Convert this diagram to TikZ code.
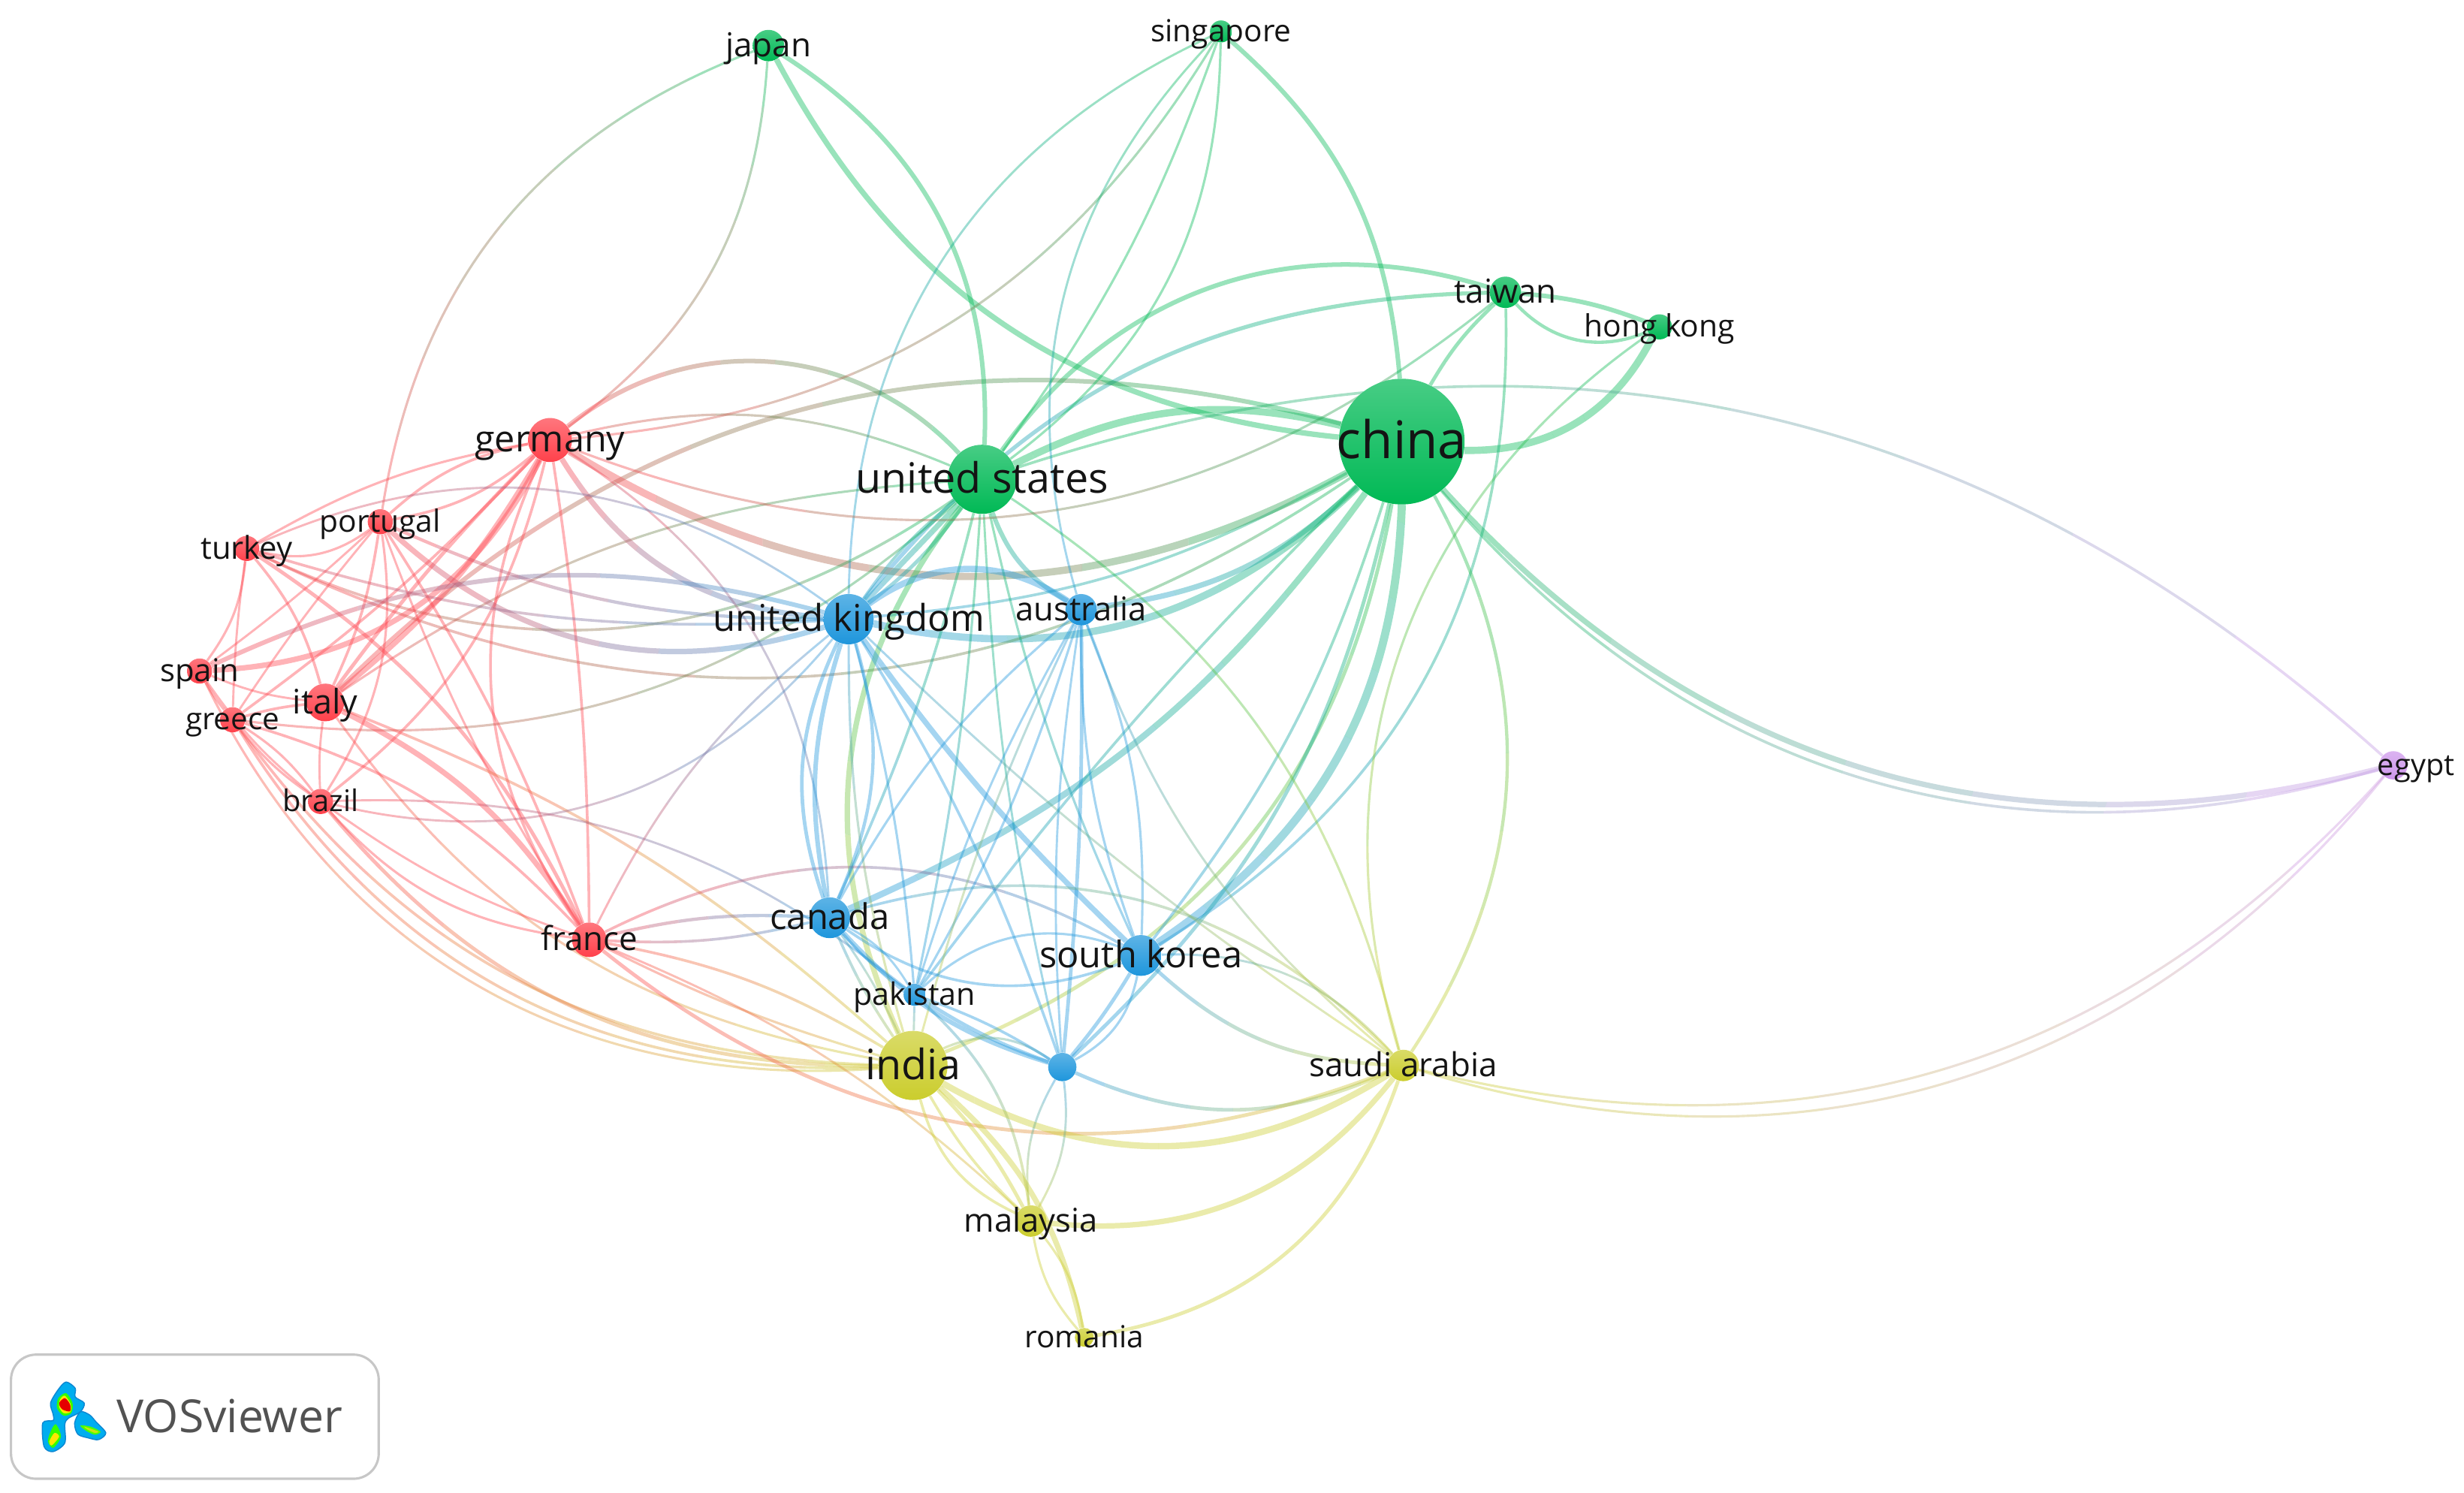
\documentclass[tikz,border=0pt]{standalone}
\usepackage{fontspec}
\setmainfont{Open Sans}
\usetikzlibrary{backgrounds}
\definecolor{gn}{RGB}{0,185,85}
\definecolor{rd}{RGB}{255,65,75}
\definecolor{bl}{RGB}{30,150,220}
\definecolor{yl}{RGB}{203,205,45}
\definecolor{pu}{RGB}{205,150,235}
\tikzset{
    bubble/.style={circle,inner sep=0pt,top color=#1!72!white,bottom color=#1},
    link/.style={line width=1.15*#1,opacity=0.4},
    lbl/.style={inner sep=0pt,text=black!92,text height={0.66*#1 pt},text depth=0pt,font=\fontsize{#1}{#1}\selectfont},
}
% Curved link that fades from the colour of one bubble to that of the other
\newcommand{\vlink}[4]{%
    \pgfpointanchor{#1}{center}\pgfgetlastxy{\xa}{\ya}%
    \pgfpointanchor{#2}{center}\pgfgetlastxy{\xb}{\yb}%
    \pgfmathsetmacro{\lnklen}{veclen(\xb-\xa,\yb-\ya)}%
    \pgfmathsetmacro{\lnkang}{atan2(\yb-\ya,\xb-\xa)}%
    \foreach \k in {0,...,7} {
        \pgfmathsetmacro{\pct}{93.75-12.5*\k}
        \pgfmathsetmacro{\sa}{\k*\lnklen/8}
        \pgfmathsetmacro{\sb}{(\k+1)*\lnklen/8}
        \colorlet{lnkcol}{c-#1!\pct!c-#2}
        \begin{scope}
            \clip[shift={(\xa,\ya)},rotate=\lnkang] (\sa pt,-\lnklen pt) rectangle (\sb pt,\lnklen pt);
            \draw[link=#4,draw=lnkcol] (#1) to[bend left=#3] (#2);
        \end{scope}
    }
}
\begin{document}
\begin{tikzpicture}[x=1pt,y=-1pt]
        \useasboundingbox (0,0) rectangle (1568,950);
        % Country bubbles
        \foreach \n/\x/\y/\rad/\col in {china/892/281/40/gn,usa/625/305/22/gn,japan/489/29/10/gn,singapore/777/20/7/gn,
            taiwan/958/186/10/gn,hongkong/1056/208/8/gn,germany/350/280/14/rd,portugal/242/332/8/rd,turkey/157/349/8/rd,
            spain/127/427/8/rd,italy/207/447/12/rd,greece/148/458/8/rd,brazil/204/510/8/rd,france/375/598/11/rd,
            uk/540/394/16/bl,australia/688/388/10/bl,canada/528/584/13/bl,korea/726/608/13/bl,pakistan/582/633/7/bl,
            blue/676/679/9/bl,india/581/678/22/yl,saudi/893/678/10/yl,malaysia/656/777/10/yl,romania/690/851/6/yl,
            egypt/1523/487/9/pu} {
            \node[bubble=\col,minimum size={2*\rad pt}] (\n) at (\x,\y) {};
            \xglobal\colorlet{c-\n}{\col}
        }
        % Country labels
        \foreach \n/\fs/\txt in {china/33/china,usa/26.6/united states,japan/21/japan,singapore/19.4/singapore,
            taiwan/21/taiwan,hongkong/19.5/hong kong,germany/23.2/germany,portugal/19.5/portugal,turkey/20/turkey,
            spain/20/spain,italy/21.5/italy,greece/19.3/greece,brazil/19/brazil,france/21/france,
            uk/23.5/united kingdom,australia/20.8/australia,canada/22.5/canada,korea/23.3/south korea,pakistan/19.7/pakistan,
            india/26.6/india,saudi/21/saudi arabia,malaysia/20.8/malaysia,romania/19.4/romania} {
            \node[lbl=\fs] (\n-lbl) at (\n) {\txt};
        }
        \node[lbl=19] (egypt-lbl) at (1537.5,487) {egypt};
        \begin{scope}[on background layer]
        % Links of the green group
        \foreach \src/\dst/\bnd/\w in {japan/china/-28/3,singapore/china/22/2.5,usa/china/20/4,usa/taiwan/36/2.5,
            uk/taiwan/25/2.2,china/taiwan/8/2,china/hongkong/-32/4,taiwan/hongkong/8/2.5,taiwan/hongkong/-35/1.8,
            taiwan/korea/30/1.5,hongkong/saudi/-36/1.3,china/saudi/31/1.8,china/egypt/-31/3,china/egypt/-33/1.5,
            usa/egypt/30/1.5,india/china/-29/2,korea/china/-27/4.5,korea/china/-10/1.5,canada/china/-15/3.5,
            china/uk/28/4,china/australia/18/3,blue/china/-17/2,pakistan/china/4/1.5,china/uk/12/1.5,
            italy/china/30/2.5,germany/china/-30/4,turkey/china/-30/1.5,japan/usa/30/2.5,singapore/usa/26/1.3,
            singapore/usa/8/1.3,singapore/uk/-32/1.2,singapore/australia/-30/1.2,germany/usa/43/2.5,germany/usa/18/1.3,
            italy/usa/15/1.3,greece/usa/-24/1.3,turkey/usa/-30/1.5,usa/uk/0/3,usa/uk/8/2,usa/uk/-8/1.5,
            usa/india/-31/3,usa/canada/5/1.5,usa/pakistan/4/1.3,usa/blue/-5/1.2,usa/korea/-6/1.3,
            usa/australia/-20/2.5,usa/saudi/21/1.3} {
            \vlink{\src}{\dst}{\bnd}{\w}
        }
        % Links of the red group
        \foreach \src/\dst/\bnd/\w in {portugal/germany/15/1.5,portugal/germany/-15/1.5,turkey/germany/10/1.3,
            spain/germany/-30/3,greece/germany/-5/1.5,italy/germany/-10/3,italy/germany/4/2,germany/brazil/19/1.5,
            germany/france/-30/1.5,germany/france/4/1.5,germany/uk/-27/3,germany/canada/27/1.2,germany/taiwan/-30/1.3,
            japan/germany/25/1.3,singapore/germany/27/1.3,portugal/japan/30/1.3,turkey/portugal/-25/1.3,
            portugal/spain/3/1.2,portugal/greece/-3/1.2,portugal/italy/8/1.5,portugal/brazil/20/1.3,
            portugal/france/6/1.5,portugal/france/-6/1.2,portugal/uk/-30/3,portugal/uk/-12/1.8,turkey/spain/15/1.3,
            turkey/italy/12/1.5,turkey/greece/-3/1.2,turkey/france/15/2,turkey/uk/30/1.2,turkey/uk/-10/1.5,
            spain/uk/20/2.5,spain/italy/-8/1.2,spain/greece/-5/1.5,spain/brazil/-8/1.2,spain/india/-34/1.3,
            greece/italy/5/1.5,greece/brazil/-8/1.3,greece/brazil/10/1.3,greece/france/15/1.5,greece/india/-30/1.5,
            greece/india/-26/1.5,italy/france/15/3,italy/brazil/-5/1.2,italy/india/10/1.5,italy/india/-22/1.3,
            brazil/india/-25/2,brazil/france/-20/1.3,brazil/france/-8/1.2,brazil/uk/-32/1.2,brazil/pakistan/20/1.2,
            france/uk/12/1.2,france/canada/8/1.8,france/canada/-8/1.5,france/korea/28/1.5,france/india/10/1.5,
            france/india/-5/1.3,france/saudi/-30/2,france/malaysia/10/1.2} {
            \vlink{\src}{\dst}{\bnd}{\w}
        }
        % Links of the blue group
        \foreach \src/\dst/\bnd/\w in {uk/canada/20/1.8,uk/canada/-22/2,uk/canada/-14/2.5,uk/korea/-5/3,
            uk/pakistan/5/1.3,uk/blue/6/1.5,uk/india/-8/1.3,uk/australia/35/3.5,uk/saudi/-5/1.2,
            australia/canada/-10/1.3,australia/pakistan/6/1.3,australia/pakistan/-6/1.2,australia/blue/3/2,
            australia/blue/-6/1.2,australia/korea/-10/1.3,australia/korea/12/1.3,australia/india/-5/1.2,
            australia/saudi/-15/1.2,canada/korea/-28/1.5,canada/blue/-15/2.5,canada/pakistan/-8/1.5,
            canada/pakistan/15/1.2,canada/india/-5/1.5,canada/india/5/1.2,canada/saudi/31/1.5,pakistan/korea/32/1.3,
            pakistan/blue/-6/2,pakistan/blue/6/1.5,pakistan/malaysia/20/1.5,pakistan/india/0/1.2,korea/blue/25/1.3,
            korea/blue/4/2,korea/saudi/-20/2,korea/saudi/25/1.2,blue/saudi/-24/2,india/blue/30/1.3} {
            \vlink{\src}{\dst}{\bnd}{\w}
        }
        % Links of the yellow group
        \foreach \src/\dst/\bnd/\w in {india/saudi/-31/3.5,malaysia/saudi/-29/3,romania/saudi/-31/2,saudi/egypt/-31/1.3,
            saudi/egypt/-34/1.3,india/malaysia/-25/1.5,india/malaysia/-8/1.5,india/malaysia/8/2,india/romania/18/3,
            malaysia/romania/15/1.3,malaysia/romania/-15/1.3,blue/malaysia/-18/1.2,blue/malaysia/18/1.2} {
            \vlink{\src}{\dst}{\bnd}{\w}
        }
        \end{scope}
        % Logo box
        \draw[black!22,line width=1.5pt,rounded corners=16pt] (7,862) rectangle (241,941);
        \node[anchor=west,inner sep=0pt,text=black!68,font=\fontsize{29}{29}\selectfont] (logotext) at (74,901) {VOSviewer};
        % Logo blobs
        \begin{scope}[shift={(0,851)},x=0.165pt,y=-0.158pt]
            \draw[draw=cyan!70!blue,fill=cyan,line width=0.7pt] plot[smooth cycle] coordinates {(255,180) (290,205) (290,240) (325,265) (310,300) (265,325) (250,350) (250,425) (205,460) (170,440) (165,345) (205,335) (205,310) (195,265) (225,210)};
            \draw[draw=cyan!70!blue,fill=cyan,line width=0.7pt] plot[smooth cycle] coordinates {(310,300) (345,312) (370,340) (408,385) (380,412) (340,405) (300,390) (288,345)};
            \fill[green!80!yellow] plot[smooth cycle] coordinates {(255,225) (280,265) (275,305) (245,315) (220,285) (225,245)};
            \fill[yellow!90!orange] plot[smooth cycle] coordinates {(250,235) (272,268) (272,300) (245,305) (228,280) (232,250)};
            \fill[red!90!black] plot[smooth cycle] coordinates {(250,245) (270,270) (270,298) (240,290) (228,265)};
            \fill[green!80!yellow] plot[smooth cycle] coordinates {(215,350) (235,400) (205,445) (185,420) (195,380)};
            \fill[yellow!90!orange] plot[smooth cycle] coordinates {(210,385) (228,400) (200,435) (190,420)};
            \fill[green!70!yellow] plot[smooth cycle] coordinates {(310,355) (350,360) (388,380) (365,392) (330,375)};
            \fill[yellow!80!green] plot[smooth cycle] coordinates {(325,360) (350,368) (380,380) (365,385) (335,370)};
        \end{scope}
    \end{tikzpicture}
\end{document}
